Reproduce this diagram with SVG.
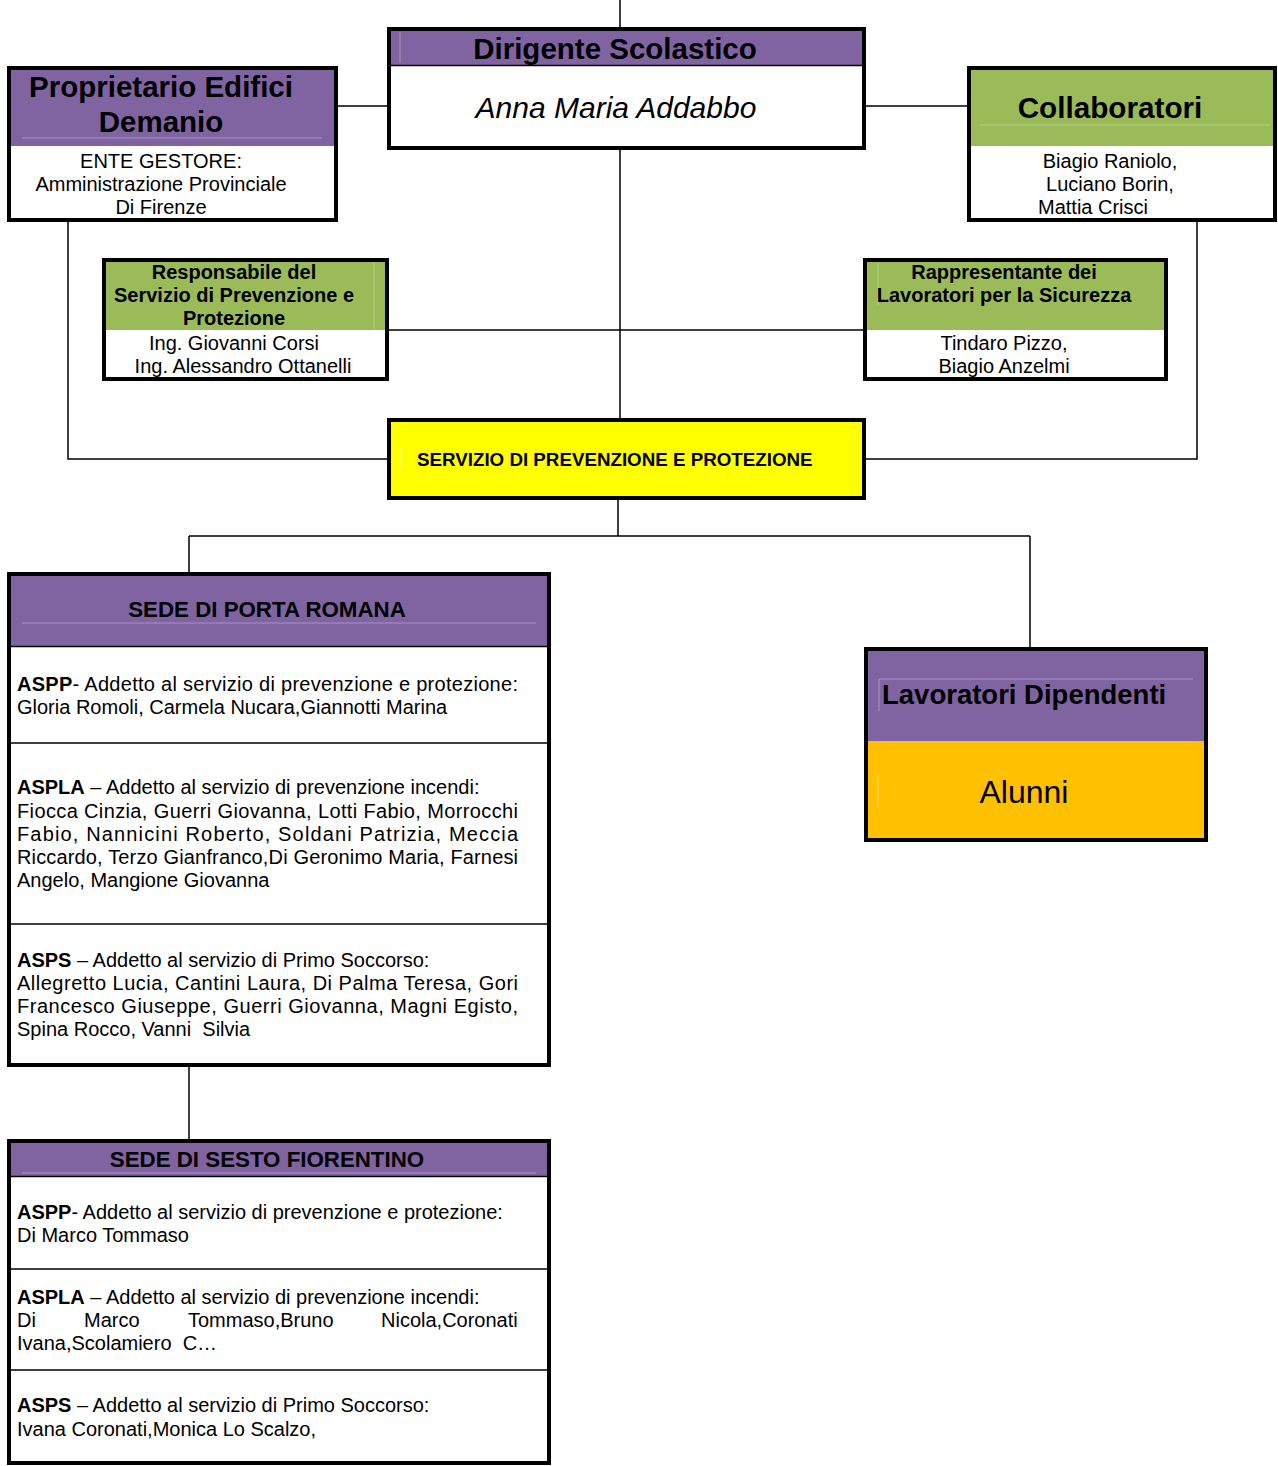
<svg xmlns="http://www.w3.org/2000/svg" width="1278" height="1466" viewBox="0 0 1278 1466">
<style>
.box{fill:none;stroke:#000;stroke-width:4}
.purple{fill:#8064A2}
.green{fill:#9BBB59}
.conn{fill:none;stroke:#000;stroke-width:1.5}
.div{stroke:#000;stroke-width:1.5}
.lp{stroke:#A893C4;stroke-width:1}
.lg{stroke:#B7CE85;stroke-width:1}
text{font-family:"Liberation Sans",Arial,sans-serif;fill:#000}
.b{font-weight:bold}
.c{text-anchor:middle}
.t20{font-size:20px}
</style>
<rect width="1278" height="1466" fill="#fff"/>
<g id="connectors">
<path class="conn" d="M620 0V29M620 148V420"/>
<path class="conn" d="M338 106H389M864 106H969"/>
<path class="conn" d="M389 330H865"/>
<path class="conn" d="M68 220V459H389M1197 220V459H864"/>
<path class="conn" d="M618 498V536M189 536H1030M189 536V574M1030 536V649"/>
<path class="conn" d="M189 1065V1141"/>
</g>
<g id="dirigente">
<rect x="389" y="29" width="475" height="119" fill="#fff"/>
<rect class="purple" x="389" y="29" width="475" height="36"/>
<line class="lp" x1="400" y1="32" x2="400" y2="63"/>
<line class="div" x1="389" y1="65.5" x2="864" y2="65.5"/>
<rect class="box" x="389" y="29" width="475" height="119"/>
<text class="b c" x="615" y="59" font-size="29.5">Dirigente Scolastico</text>
<text class="c" x="616" y="118" font-size="30" font-style="italic">Anna Maria Addabbo</text>
</g>
<g id="proprietario">
<rect x="9" y="68" width="327" height="152" fill="#fff"/>
<rect class="purple" x="9" y="68" width="327" height="78"/>
<line class="lp" x1="22" y1="138" x2="322" y2="138"/>
<rect class="box" x="9" y="68" width="327" height="152"/>
<text class="b c" x="161" y="97" font-size="29.5">Proprietario Edifici</text>
<text class="b c" x="161" y="132" font-size="29.5">Demanio</text>
<text class="c t20" x="161" y="168">ENTE GESTORE:</text>
<text class="c t20" x="161" y="191">Amministrazione Provinciale</text>
<text class="c t20" x="161" y="214">Di Firenze</text>
</g>
<g id="collaboratori">
<rect x="969" y="68" width="306" height="152" fill="#fff"/>
<rect class="green" x="969" y="68" width="306" height="78"/>
<line class="lg" x1="980" y1="125" x2="1270" y2="125"/>
<rect class="box" x="969" y="68" width="306" height="152"/>
<text class="b c" x="1110" y="118" font-size="29.7">Collaboratori</text>
<text class="c t20" x="1110" y="168">Biagio Raniolo,</text>
<text class="c t20" x="1110" y="191">Luciano Borin,</text>
<text class="c t20" x="1093" y="214">Mattia Crisci</text>
</g>
<g id="responsabile">
<rect x="104" y="260" width="283" height="119" fill="#fff"/>
<rect class="green" x="104" y="260" width="283" height="70"/>
<line class="lg" x1="374" y1="262" x2="374" y2="329"/>
<rect class="box" x="104" y="260" width="283" height="119"/>
<text class="b c t20" x="234" y="279">Responsabile del</text>
<text class="b c t20" x="234" y="302">Servizio di Prevenzione e</text>
<text class="b c t20" x="234" y="325">Protezione</text>
<text class="c t20" x="234" y="350">Ing. Giovanni Corsi</text>
<text class="c t20" x="243" y="373">Ing. Alessandro Ottanelli</text>
</g>
<g id="rappresentante">
<rect x="865" y="260" width="301" height="119" fill="#fff"/>
<rect class="green" x="865" y="260" width="301" height="70"/>
<line class="lg" x1="878" y1="263" x2="878" y2="305"/>
<rect class="box" x="865" y="260" width="301" height="119"/>
<text class="b c t20" x="1004" y="279">Rappresentante dei</text>
<text class="b c t20" x="1004" y="302">Lavoratori per la Sicurezza</text>
<text class="c t20" x="1004" y="350">Tindaro Pizzo,</text>
<text class="c t20" x="1004" y="373">Biagio Anzelmi</text>
</g>
<g id="spp">
<rect x="389" y="420" width="475" height="78" fill="#FFFF00"/>
<line x1="401" y1="448" x2="401" y2="470" stroke="#FFFF99" stroke-width="1"/>
<rect class="box" x="389" y="420" width="475" height="78"/>
<text class="b" x="417" y="466" font-size="18.75">SERVIZIO DI PREVENZIONE E PROTEZIONE</text>
</g>
<g id="porta-romana">
<rect x="9" y="574" width="540" height="491" fill="#fff"/>
<rect class="purple" x="9" y="574" width="540" height="72"/>
<line class="lp" x1="22" y1="623" x2="536" y2="623"/>
<line class="div" x1="9" y1="646.5" x2="549" y2="646.5"/>
<line class="div" x1="9" y1="743" x2="549" y2="743"/>
<line class="div" x1="9" y1="924" x2="549" y2="924"/>
<rect class="box" x="9" y="574" width="540" height="491"/>
<text class="b c" x="267" y="617" font-size="22.3">SEDE DI PORTA ROMANA</text>
<text class="t20" x="17" y="691" textLength="501" lengthAdjust="spacing"><tspan class="b">ASPP</tspan>- Addetto al servizio di prevenzione e protezione:</text>
<text class="t20" x="17" y="714">Gloria Romoli, Carmela Nucara,Giannotti Marina</text>
<text class="t20" x="17" y="794"><tspan class="b">ASPLA</tspan> – Addetto al servizio di prevenzione incendi:</text>
<text class="t20" x="17" y="818" textLength="501" lengthAdjust="spacing">Fiocca Cinzia, Guerri Giovanna, Lotti Fabio, Morrocchi</text>
<text class="t20" x="17" y="841" textLength="501" lengthAdjust="spacing">Fabio, Nannicini Roberto, Soldani Patrizia, Meccia</text>
<text class="t20" x="17" y="864" textLength="501" lengthAdjust="spacing">Riccardo, Terzo Gianfranco,Di Geronimo Maria, Farnesi</text>
<text class="t20" x="17" y="887">Angelo, Mangione Giovanna</text>
<text class="t20" x="17" y="967"><tspan class="b">ASPS</tspan> – Addetto al servizio di Primo Soccorso:</text>
<text class="t20" x="17" y="990" textLength="501" lengthAdjust="spacing">Allegretto Lucia, Cantini Laura, Di Palma Teresa, Gori</text>
<text class="t20" x="17" y="1013" textLength="501" lengthAdjust="spacing">Francesco Giuseppe, Guerri Giovanna, Magni Egisto,</text>
<text class="t20" x="17" y="1036">Spina Rocco, Vanni&#160; Silvia</text>
</g>
<g id="lavoratori">
<rect class="purple" x="866" y="649" width="340" height="92"/>
<rect x="866" y="741" width="340" height="99" fill="#FFC000"/>
<line class="lp" x1="879" y1="679" x2="1193" y2="679"/>
<line class="lp" x1="879" y1="679" x2="879" y2="711"/>
<line x1="878" y1="773" x2="878" y2="808" stroke="#FFD966" stroke-width="1"/>
<rect class="box" x="866" y="649" width="340" height="191"/>
<text class="b" x="882" y="704" font-size="27.5">Lavoratori Dipendenti</text>
<text class="c" x="1024" y="803" font-size="32">Alunni</text>
</g>
<g id="sesto-fiorentino">
<rect x="9" y="1141" width="540" height="322" fill="#fff"/>
<rect class="purple" x="9" y="1141" width="540" height="35"/>
<line class="lp" x1="22" y1="1173" x2="536" y2="1173"/>
<line class="div" x1="9" y1="1176.5" x2="549" y2="1176.5"/>
<line class="div" x1="9" y1="1269" x2="549" y2="1269"/>
<line class="div" x1="9" y1="1370" x2="549" y2="1370"/>
<rect class="box" x="9" y="1141" width="540" height="322"/>
<text class="b c" x="267" y="1167" font-size="22.3">SEDE DI SESTO FIORENTINO</text>
<text class="t20" x="17" y="1219"><tspan class="b">ASPP</tspan>- Addetto al servizio di prevenzione e protezione:</text>
<text class="t20" x="17" y="1242">Di Marco Tommaso</text>
<text class="t20" x="17" y="1304"><tspan class="b">ASPLA</tspan> – Addetto al servizio di prevenzione incendi:</text>
<text class="t20" y="1327"><tspan x="17">Di</tspan><tspan x="84">Marco</tspan><tspan x="188">Tommaso,Bruno</tspan><tspan x="381">Nicola,Coronati</tspan></text>
<text class="t20" x="17" y="1350">Ivana,Scolamiero&#160; C…</text>
<text class="t20" x="17" y="1412"><tspan class="b">ASPS</tspan> – Addetto al servizio di Primo Soccorso:</text>
<text class="t20" x="17" y="1436">Ivana Coronati,Monica Lo Scalzo,</text>
</g>
</svg>
